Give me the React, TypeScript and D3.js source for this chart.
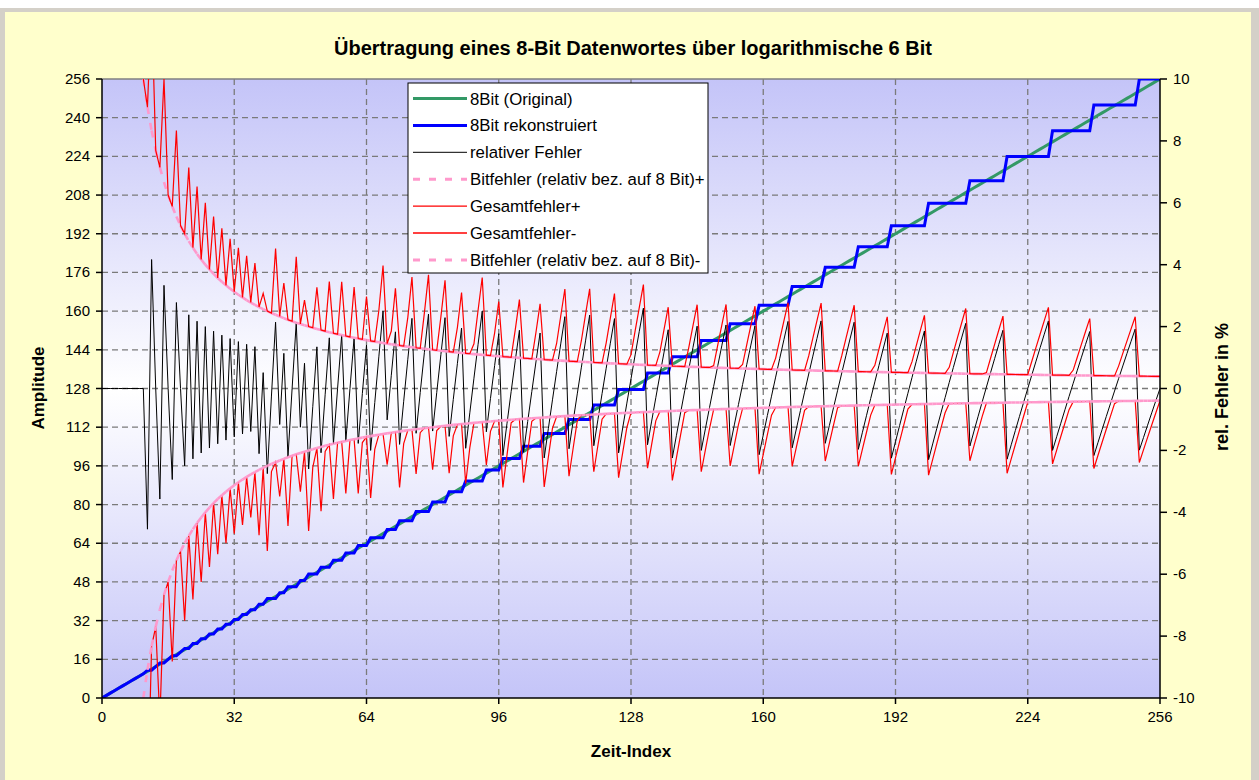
import React from "react";
import * as d3 from "d3";

// Zeit-Index 0..256, das 8-Bit-Original ist die Rampe selbst (Wert = Index)
const SAMPLES = d3.range(0, 257);

const LEVELS = [
  0, 1, 2, 3, 4, 5, 6, 7, 8, 9, 10,
  11.5, 13, 14.5, 16, 17.5, 19, 20.5,
  22.5, 24.5, 26.5, 28.5, 30.5, 32.5, 34.5, 36.5,
  38.8, 41.1, 43.5, 46.0, 48.6, 51.3, 54.1, 57.0, 60.0, 63.1, 66.3,
  69.7, 73.3, 77.1, 81.1, 85.3, 89.7, 94.3, 99.1, 104.1, 109.4, 115.2, 121.2,
  127.6, 134.4, 141.1, 147.9, 154.8, 162.4, 170.2, 178.1, 186.6, 195.3,
  204.6, 213.9, 224.0, 234.6, 245.2, 256,
];

const X_TICKS = [0, 32, 64, 96, 128, 160, 192, 224, 256];
const Y_TICKS = [0, 16, 32, 48, 64, 80, 96, 112, 128, 144, 160, 176, 192, 208, 224, 240, 256];
const Y2_TICKS = [-10, -8, -6, -4, -2, 0, 2, 4, 6, 8, 10];

const TITLE = "Übertragung eines 8-Bit Datenwortes über logarithmische 6 Bit";
const LEGEND = [
  { label: "8Bit (Original)", color: "#339966", width: 3, dash: "" },
  { label: "8Bit rekonstruiert", color: "#0000ff", width: 3, dash: "" },
  { label: "relativer Fehler", color: "#000000", width: 1, dash: "" },
  { label: "Bitfehler (relativ bez. auf 8 Bit)+", color: "#ff99cc", width: 3, dash: "7,9" },
  { label: "Gesamtfehler+", color: "#ff0000", width: 1.3, dash: "" },
  { label: "Gesamtfehler-", color: "#ff0000", width: 1.3, dash: "" },
  { label: "Bitfehler (relativ bez. auf 8 Bit)-", color: "#ff99cc", width: 3, dash: "7,9" },
];

const FONT = "'Liberation Sans', Arial, sans-serif";

const nearest = (v: number) =>
  LEVELS.reduce((b, l) => (Math.abs(l - v) < Math.abs(b - v) ? l : b), LEVELS[0]);

const original = SAMPLES;
const recon = SAMPLES.map(nearest);
const relErr = SAMPLES.map((v, i) => (v === 0 ? 0 : ((v - recon[i]) / v) * 100));
const bitErr = SAMPLES.map((v) => (v === 0 ? NaN : 100 / v));
const gesPlus = SAMPLES.map((v, i) => bitErr[i] + Math.max(relErr[i], 0));
const gesMinus = SAMPLES.map((v, i) => -bitErr[i] + Math.min(relErr[i], 0));

const L = 102, R = 1160, T = 79, B = 698;

export default function App() {
  const x = d3.scaleLinear().domain([0, 256]).range([L, R]);
  const y = d3.scaleLinear().domain([0, 256]).range([B, T]);
  const y2 = d3.scaleLinear().domain([-10, 10]).range([B, T]);

  const line1 = d3
    .line<number>()
    .x((d, i) => x(SAMPLES[i]))
    .y((d) => y(d));
  const line2 = d3
    .line<number>()
    .defined((d) => isFinite(d))
    .x((d, i) => x(SAMPLES[i]))
    .y((d) => y2(Math.max(-60, Math.min(60, d))));

  // Excel startet das Strichmuster in jedem Segment neu
  const dashedSegments = (vals: number[], sign: number) =>
    SAMPLES.slice(1, -1).map((s, k) => {
      const i = k + 1;
      const a = sign * Math.min(60, vals[i]);
      const b = sign * Math.min(60, vals[i + 1]);
      return (
        <line
          key={i}
          x1={x(SAMPLES[i])}
          y1={y2(a)}
          x2={x(SAMPLES[i + 1])}
          y2={y2(b)}
          stroke="#ff99cc"
          strokeWidth={2.6}
          strokeDasharray="7,9"
        />
      );
    });

  return (
    <svg
      width={1259}
      height={780}
      style={{ position: "absolute", left: 0, top: 0 }}
      fontFamily={FONT}
    >
      <defs>
        <linearGradient id="bg" x1="0" y1="0" x2="0" y2="1">
          <stop offset="0" stopColor="#c4c4f8" />
          <stop offset="0.5" stopColor="#ffffff" />
          <stop offset="1" stopColor="#c4c4f8" />
        </linearGradient>
        <clipPath id="plot">
          <rect x={L} y={T} width={R - L} height={B - T} />
        </clipPath>
      </defs>
      <rect x={0} y={0} width={1259} height={780} fill="#ffffff" />
      <rect x={0} y={8} width={1259} height={772} fill="#d4d0c8" />
      <rect x={5} y={12} width={1246} height={768} fill="#ffffcc" />

      <text x={633} y={55} textAnchor="middle" fontSize={20} fontWeight="bold">
        {TITLE}
      </text>

      <rect x={L} y={T} width={R - L} height={B - T} fill="url(#bg)" />

      {/* Gitternetz */}
      <g stroke="#7a7a7a" strokeWidth={1.3} strokeDasharray="6,4">
        {Y_TICKS.slice(1, -1).map((t) => (
          <line key={"h" + t} x1={L} x2={R} y1={y(t)} y2={y(t)} />
        ))}
        {X_TICKS.slice(1, -1).map((t) => (
          <line key={"v" + t} x1={x(t)} x2={x(t)} y1={T} y2={B} />
        ))}
      </g>
      <line x1={L} x2={R} y1={T} y2={T} stroke="#808080" strokeWidth={1.5} />

      <g clipPath="url(#plot)" fill="none">
        <path d={line1(original)!} stroke="#339966" strokeWidth={3} />
        <path d={line1(recon)!} stroke="#0000ff" strokeWidth={3} />
        <path d={line2(relErr)!} stroke="#000000" strokeWidth={1} />
        <g>{dashedSegments(bitErr, 1)}</g>
        <path d={line2(gesPlus)!} stroke="#ff0000" strokeWidth={1.2} />
        <path d={line2(gesMinus)!} stroke="#ff0000" strokeWidth={1.2} />
        <g>{dashedSegments(bitErr, -1)}</g>
      </g>

      {/* Achsen */}
      <g stroke="#000" strokeWidth={1.5}>
        <line x1={L} x2={L} y1={T} y2={B} />
        <line x1={R} x2={R} y1={T} y2={B} />
        <line x1={L} x2={R} y1={B} y2={B} />
        {Y_TICKS.map((t) => (
          <line key={"ly" + t} x1={L - 6} x2={L} y1={y(t)} y2={y(t)} />
        ))}
        {Y2_TICKS.map((t) => (
          <line key={"ry" + t} x1={R} x2={R + 7} y1={y2(t)} y2={y2(t)} />
        ))}
        {X_TICKS.map((t) => (
          <line key={"bx" + t} x1={x(t)} x2={x(t)} y1={B} y2={B + 6} />
        ))}
      </g>
      <g fontSize={15}>
        {Y_TICKS.map((t) => (
          <text key={"lt" + t} x={90} y={y(t) + 5} textAnchor="end">
            {t}
          </text>
        ))}
        {Y2_TICKS.map((t) => (
          <text key={"rt" + t} x={1173} y={y2(t) + 5} textAnchor="start">
            {t}
          </text>
        ))}
        {X_TICKS.map((t) => (
          <text key={"bt" + t} x={x(t)} y={722} textAnchor="middle">
            {t}
          </text>
        ))}
      </g>
      <g fontSize={17} fontWeight="bold">
        <text x={631} y={757} textAnchor="middle">
          Zeit-Index
        </text>
        <text transform="translate(44,388) rotate(-90)" textAnchor="middle">
          Amplitude
        </text>
        <text transform="translate(1228,387) rotate(-90)" textAnchor="middle" fontSize={18}>
          rel. Fehler in %
        </text>
      </g>

      {/* Legende */}
      <g>
        <rect x={408} y={83} width={300} height={190} fill="#ffffff" stroke="#000" strokeWidth={1} />
        {LEGEND.map((d, i) => {
          const cy = 98.5 + i * 26.9;
          return (
            <g key={d.label}>
              <line
                x1={413}
                x2={467}
                y1={cy}
                y2={cy}
                stroke={d.color}
                strokeWidth={d.width}
                strokeDasharray={d.dash || undefined}
              />
              <text x={470} y={cy + 6} fontSize={16.8}>
                {d.label}
              </text>
            </g>
          );
        })}
      </g>
    </svg>
  );
}
